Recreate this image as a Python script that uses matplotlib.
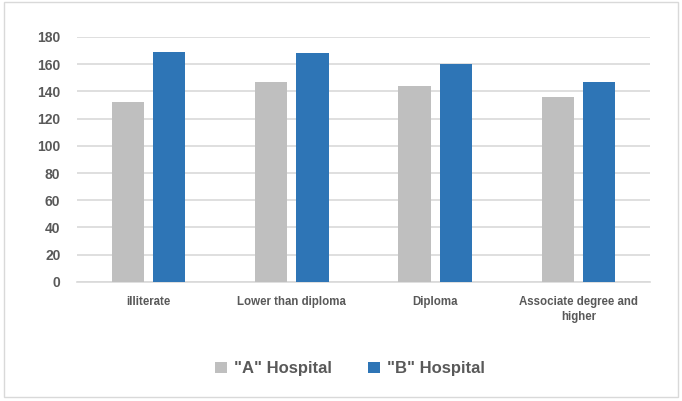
import numpy as np
import matplotlib
matplotlib.use("Agg")
import matplotlib.pyplot as plt
import matplotlib.patches as mpatches

# ---------------------------------------------------------------------------
# Data
# ---------------------------------------------------------------------------
categories = ["illiterate", "Lower than diploma", "Diploma", "Associate degree and\nhigher"]
hospital_a = [132, 147, 144, 136]
hospital_b = [169, 168, 160, 147]
series_names = ['"A" Hospital', '"B" Hospital']
yticks = [0, 20, 40, 60, 80, 100, 120, 140, 160, 180]

plt.rcParams["font.family"] = ["Liberation Sans", "DejaVu Sans"]
text_col = "#595959"

fig = plt.figure(figsize=(6.82, 4.01), dpi=100)
ax = fig.add_axes([0.113, 0.297, 0.840, 0.611])

x = np.arange(len(categories))
w = 0.225
gap = 0.062
ax.bar(x - (w + gap) / 2, hospital_a, width=w, color="#BFBFBF", zorder=3, label=series_names[0])
ax.bar(x + (w + gap) / 2, hospital_b, width=w, color="#2E75B6", zorder=3, label=series_names[1])

ax.set_xlim(-0.5, len(categories) - 0.5)
ax.set_ylim(0, 180)
ax.set_yticks(yticks)
ax.set_yticklabels([str(t) for t in yticks], fontsize=10, fontweight="bold", color=text_col)
ax.set_xticks(x)
ax.set_xticklabels(categories, fontsize=8.3, fontweight="bold", color=text_col, linespacing=1.4)
ax.tick_params(axis="both", length=0)
ax.tick_params(axis="y", pad=12)
ax.tick_params(axis="x", pad=10)

ax.grid(axis="y", color="#D9D9D9", linewidth=1.2, zorder=0)
for s in ["top", "right", "left"]:
    ax.spines[s].set_visible(False)
ax.spines["bottom"].set_color("#D9D9D9")
ax.spines["bottom"].set_linewidth(1.2)

leg = fig.legend(loc="center", bbox_to_anchor=(0.513, 0.08), ncol=2, frameon=False,
                 prop={"size": 12, "weight": "bold"}, handlelength=0.7, handleheight=0.7,
                 handletextpad=0.4, columnspacing=2.2)
for t in leg.get_texts():
    t.set_color(text_col)

# outer chart border
fig.patches.append(mpatches.Rectangle((0.006, 0.01), 0.988, 0.985, transform=fig.transFigure,
                                      fill=False, edgecolor="#D9D9D9", linewidth=1.0))

fig.savefig("out.png", dpi=100)
